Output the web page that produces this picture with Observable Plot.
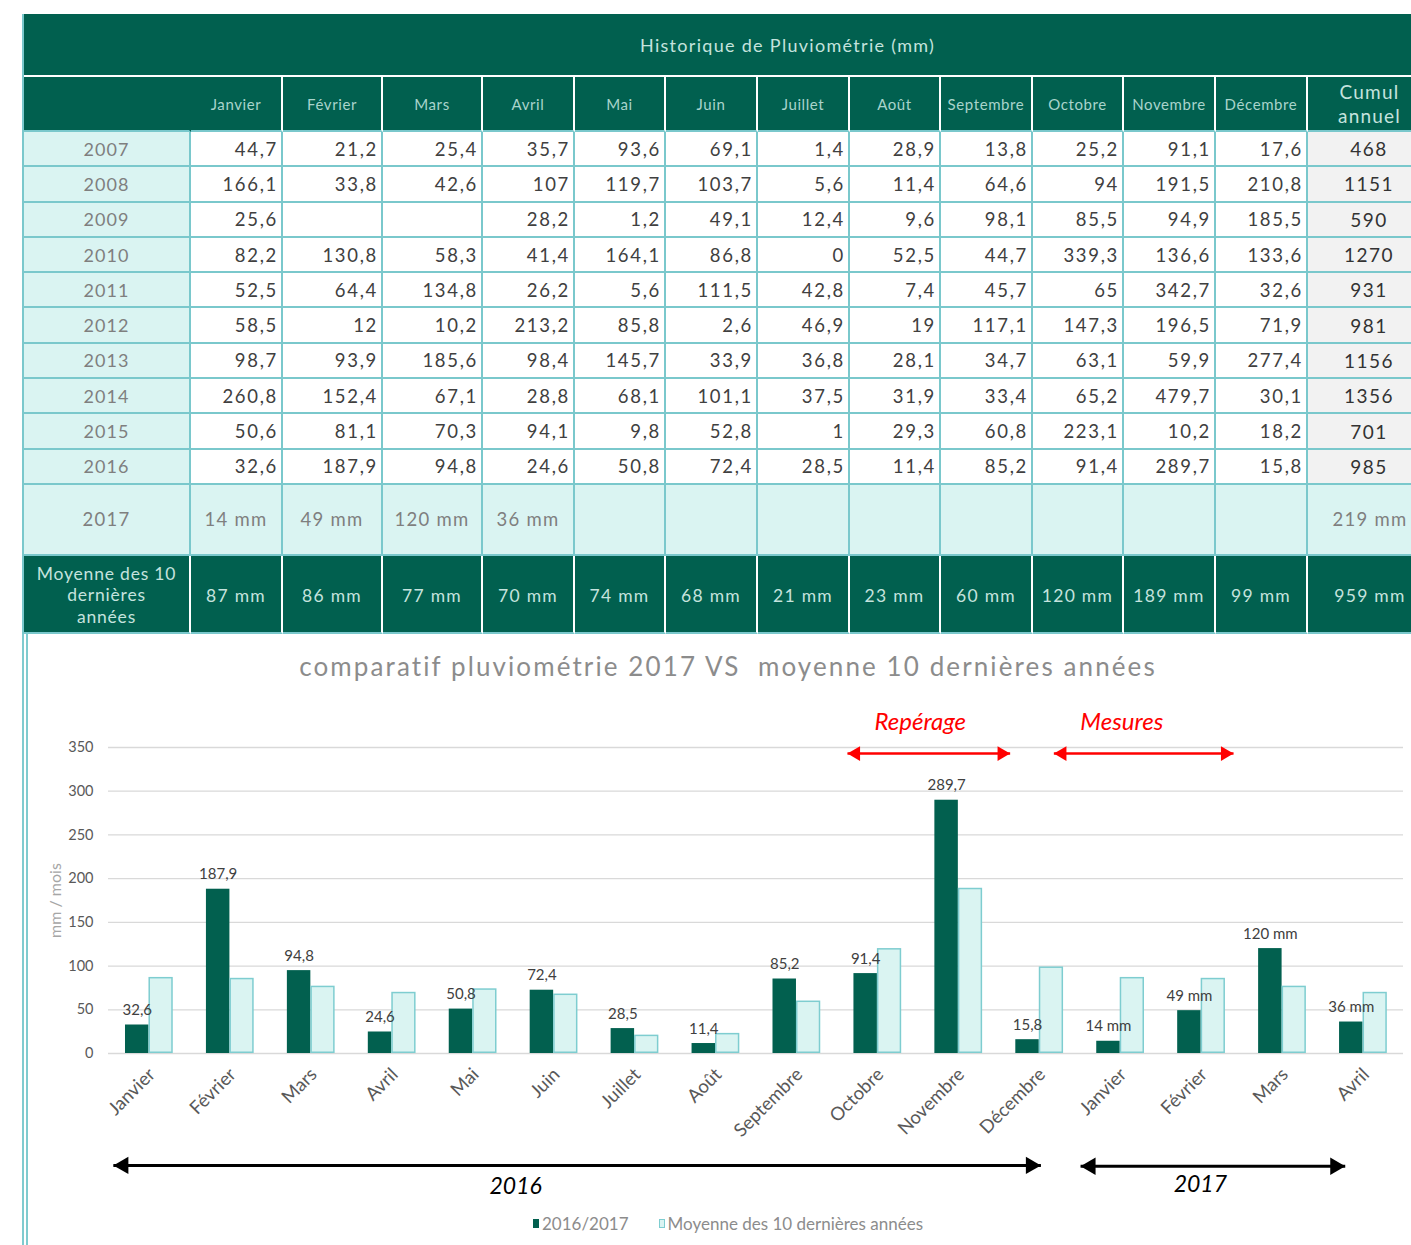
<!DOCTYPE html>
<html><head><meta charset="utf-8">
<script src="https://cdn.jsdelivr.net/npm/d3@7"></script>
<script src="https://cdn.jsdelivr.net/npm/@observablehq/plot@0.6"></script>
<style>
body{margin:0;background:#fff;width:1411px;height:1245px;overflow:hidden;position:relative;font-family:Lato,"Noto Sans",sans-serif;}
#table{position:absolute;left:22px;top:14px;display:grid;
grid-template-columns:167px 92px 100px 100px 92px 91px 92px 92px 91px 92px 91px 92px 92px 126px;
grid-template-rows:63px 55px repeat(10,35.3px) 71px 78px;border-left:2px solid #7ac8cc;}
.c{box-sizing:border-box;display:flex;align-items:center;justify-content:center;overflow:hidden;white-space:nowrap;}
.title{grid-column:1 / -1;background:#01604f;color:#c5e3de;font-size:18px;letter-spacing:1.3px;justify-content:flex-start;padding-left:616px;border-bottom:2px solid #fff;}
.hd{background:#01604f;color:#a9d4cc;font-size:15px;letter-spacing:.6px;border-right:2px solid #fff;border-bottom:2px solid #7ac8cc;}
.hd0{border-right:2px solid #01604f;}
.hdc{font-size:19px;line-height:24px;text-align:center;white-space:pre-line;color:#c5e3de;letter-spacing:1.2px;justify-content:flex-start;padding-left:30px;}
.yr{background:#daf4f2;color:#7f7f7f;font-size:18px;letter-spacing:1px;border-right:2px solid #7ac8cc;border-bottom:2px solid #7ac8cc;}
.v{background:#fff;color:#404040;font-size:18.5px;letter-spacing:1.7px;justify-content:flex-end;padding-right:3px;border-right:2px solid #7ac8cc;border-bottom:2px solid #7ac8cc;}
.cu{background:#f2f2f2;color:#333;font-size:19px;letter-spacing:1.5px;justify-content:center;padding-right:2px;}
.r17{background:#daf4f2;color:#7f7f7f;font-size:18.5px;letter-spacing:1.3px;border-right:2px solid #7ac8cc;border-bottom:2px solid #7ac8cc;}
.mo{background:#01604f;color:#c5e3de;font-size:17.5px;letter-spacing:1.3px;border-right:2px solid #fff;border-bottom:2px solid #7ac8cc;padding-top:4px;}
.mo0{white-space:pre-line;text-align:center;line-height:21.5px;letter-spacing:.8px;padding-top:2px;}
#chart{position:absolute;left:22px;top:634px;width:1389px;height:611px;border-left:6px double #7fcbcf;}
#ctitle{position:absolute;left:0;top:16px;width:1400px;text-align:center;font-size:26px;color:#8c8c8c;letter-spacing:2.1px;white-space:pre;}
#svgwrap{position:absolute;left:0;top:56px;}
#legend{position:absolute;left:505px;top:579px;font-size:17px;color:#8c8c8c;display:flex;align-items:center;white-space:nowrap;}
#legend .sw{display:inline-block;width:6px;height:9px;margin-right:3px;box-sizing:border-box;}
</style></head>
<body>
<div id="table"></div>
<div id="chart">
  <div id="ctitle">comparatif pluviométrie 2017 VS  moyenne 10 dernières années</div>
  <div id="svgwrap"></div>
  <div id="legend"></div>
</div>
<script>
// ---------- DATA ----------
const months = ["Janvier","Février","Mars","Avril","Mai","Juin","Juillet","Août","Septembre","Octobre","Novembre","Décembre"];
const years = [2007,2008,2009,2010,2011,2012,2013,2014,2015,2016];
const v2007 = [44.7,21.2,25.4,35.7,93.6,69.1,1.4,28.9,13.8,25.2,91.1,17.6];
const v2008 = [166.1,33.8,42.6,107,119.7,103.7,5.6,11.4,64.6,94,191.5,210.8];
const v2009 = [25.6,null,null,28.2,1.2,49.1,12.4,9.6,98.1,85.5,94.9,185.5];
const v2010 = [82.2,130.8,58.3,41.4,164.1,86.8,0,52.5,44.7,339.3,136.6,133.6];
const v2011 = [52.5,64.4,134.8,26.2,5.6,111.5,42.8,7.4,45.7,65,342.7,32.6];
const v2012 = [58.5,12,10.2,213.2,85.8,2.6,46.9,19,117.1,147.3,196.5,71.9];
const v2013 = [98.7,93.9,185.6,98.4,145.7,33.9,36.8,28.1,34.7,63.1,59.9,277.4];
const v2014 = [260.8,152.4,67.1,28.8,68.1,101.1,37.5,31.9,33.4,65.2,479.7,30.1];
const v2015 = [50.6,81.1,70.3,94.1,9.8,52.8,1,29.3,60.8,223.1,10.2,18.2];
const v2016 = [32.6,187.9,94.8,24.6,50.8,72.4,28.5,11.4,85.2,91.4,289.7,15.8];
const cumul = [468,1151,590,1270,931,981,1156,1356,701,985];
const v2017 = [14,49,120,36];
const cumul2017 = 219;
const moyenne = [87,86,77,70,74,68,21,23,60,120,189,99];
const cumulMoyenne = 959;
const seriesNames = ["2016/2017","Moyenne des 10 dernières années"];
const yTicks = [0,50,100,150,200,250,300,350];

// annotations (in chart units: month index / mm)
const spans = [
  {from:8.63, to:10.64, y:343, color:"#ff0000", w:2.5, head:4.2},
  {from:11.18, to:13.40, y:343, color:"#ff0000", w:2.5, head:4.2},
  {from:-0.44, to:11.02, y:-128, color:"#000000", w:3, head:5},
  {from:11.51, to:14.78, y:-129, color:"#000000", w:3, head:5}
];
const notes = [
  {text:"Repérage", x:9.53, y:379, color:"#ff0000", size:24},
  {text:"Mesures", x:12.02, y:379, color:"#ff0000", size:24},
  {text:"2016", x:4.53, y:-152, color:"#000000", size:23},
  {text:"2017", x:12.99, y:-150, color:"#000000", size:23}
];

// ---------- TABLE ----------
const fr = v => v == null ? "" : String(v).replace(".", ",");
const T = document.getElementById("table");
function cell(cls, txt){ const d=document.createElement("div"); d.className="c "+cls; d.textContent=txt; T.appendChild(d); return d; }
cell("title","Historique de Pluviométrie (mm)");
cell("hd hd0","");
months.forEach((m,i)=>cell("hd",m));
cell("hd hdc","Cumul\nannuel");
const rowsData = [v2007,v2008,v2009,v2010,v2011,v2012,v2013,v2014,v2015,v2016];
years.forEach((y,k)=>{
  cell("yr", String(y));
  rowsData[k].forEach(v=>cell("v", fr(v)));
  cell("v cu", String(cumul[k]));
});
cell("r17","2017");
months.forEach((m,i)=>cell("r17", i<v2017.length ? v2017[i]+" mm" : ""));
cell("r17", cumul2017+" mm");
cell("mo mo0","Moyenne des 10\ndernières\nannées");
moyenne.forEach(v=>cell("mo", v+" mm"));
cell("mo", cumulMoyenne+" mm");

// ---------- CHART ----------
const chartMonths = months.concat(months.slice(0, v2017.length));
const serieA = v2016.concat(v2017);
const serieB = moyenne.concat(moyenne.slice(0, v2017.length));
const rows = chartMonths.map((m,i)=>({i, m, a:serieA[i], b:serieB[i], lbl: i<12 ? fr(serieA[i]) : serieA[i]+" mm"}));

const dark = "#02604f", light = "#daf4f2", lightStroke = "#7ecdd0";

const annotMarks = spans.flatMap(s => [
  Plot.link([s], {x1:"from", x2:"to", y1:"y", y2:"y", stroke:s.color, strokeWidth:s.w}),
  Plot.dot([s], {x:"from", y:"y", symbol:"triangle", r: Math.sqrt(3*Math.sqrt(3)*s.head*s.head/Math.PI), rotate:-90, dx:2*s.head, fill:s.color, stroke:"none"}),
  Plot.dot([s], {x:"to", y:"y", symbol:"triangle", r: Math.sqrt(3*Math.sqrt(3)*s.head*s.head/Math.PI), rotate:90, dx:-2*s.head, fill:s.color, stroke:"none"})
]);

const plot = Plot.plot({
  width:1383, height:515,
  marginLeft:80, marginRight:8, marginTop:57, marginBottom:152,
  x:{domain:[-0.5,15.5], axis:null},
  y:{domain:[0,350], axis:null},
  style:{fontFamily:"Lato, 'Noto Sans', sans-serif", color:"#595959", background:"transparent", overflow:"visible"},
  marks:[
    Plot.gridY(yTicks, {stroke:"#d9d9d9", strokeOpacity:1, strokeWidth:1.3}),
    Plot.axisY(yTicks, {tickSize:0, tickPadding:15, fontSize:14.5, label:null, fill:"#595959"}),
    Plot.text(["mm / mois"], {frameAnchor:"left", textAnchor:"middle", rotate:-90, dx:-53, fontSize:16, fill:"#a6a6a6"}),
    Plot.rectY(rows, {x1:d=>d.i-0.29, x2:d=>d.i, y1:0, y2:"a", fill:dark}),
    Plot.rectY(rows, {x1:d=>d.i, x2:d=>d.i+0.3, y1:0, y2:"b", fill:light, stroke:lightStroke, strokeWidth:1.5, inset:0.75}),
    Plot.text(rows, {x:d=>d.i-0.145, y:"a", text:"lbl", dy:-10, lineAnchor:"bottom", fontSize:15, fill:"#404040"}),
    Plot.text(rows, {x:"i", y:0, text:"m", rotate:-45, textAnchor:"end", lineAnchor:"middle", dx:3, dy:18, fontSize:18.5, fill:"#595959"}),
    ...annotMarks,
    Plot.text(notes, {x:"x", y:"y", text:"text", fill:d=>d.color, fontSize:d=>d.size, fontStyle:"italic", lineAnchor:"middle"})
  ]
});
document.getElementById("svgwrap").appendChild(plot);

// legend
const L = document.getElementById("legend");
L.innerHTML = `<span class="sw" style="background:${dark}"></span><span>${seriesNames[0]}</span>`+
  `<span style="display:inline-block;width:30px"></span>`+
  `<span class="sw" style="background:${light};border:1.5px solid ${lightStroke}"></span><span>${seriesNames[1]}</span>`;
</script>
</body></html>
